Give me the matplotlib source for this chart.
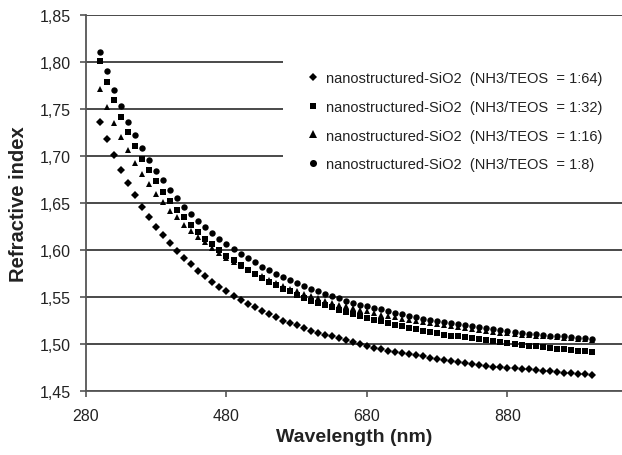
import matplotlib
matplotlib.use("Agg")
import matplotlib.pyplot as plt
from matplotlib.patches import Rectangle

plt.rcParams['font.family'] = ['Liberation Sans', 'DejaVu Sans']

wavelength = list(range(300, 1001, 10))

n_1_64 = [1.736, 1.718, 1.701, 1.685, 1.671, 1.658, 1.646, 1.635, 1.625, 1.616,
          1.607, 1.599, 1.592, 1.585, 1.578, 1.572, 1.566, 1.561, 1.556, 1.551,
          1.547, 1.543, 1.539, 1.535, 1.532, 1.529, 1.525, 1.522, 1.520, 1.517,
          1.514, 1.512, 1.510, 1.508, 1.506, 1.504, 1.502, 1.500, 1.498, 1.496,
          1.495, 1.493, 1.492, 1.490, 1.489, 1.488, 1.487, 1.485, 1.484, 1.483,
          1.482, 1.481, 1.480, 1.479, 1.478, 1.477, 1.476, 1.476, 1.475, 1.474,
          1.473, 1.473, 1.472, 1.471, 1.471, 1.470, 1.469, 1.469, 1.468, 1.468,
          1.467]

n_1_32 = [1.801, 1.779, 1.760, 1.742, 1.726, 1.711, 1.697, 1.685, 1.673, 1.662,
          1.652, 1.643, 1.635, 1.627, 1.619, 1.612, 1.606, 1.600, 1.594, 1.589,
          1.584, 1.579, 1.574, 1.570, 1.566, 1.563, 1.559, 1.556, 1.552, 1.549,
          1.546, 1.544, 1.541, 1.539, 1.536, 1.534, 1.532, 1.530, 1.528, 1.526,
          1.524, 1.522, 1.520, 1.519, 1.517, 1.516, 1.514, 1.513, 1.512, 1.510,
          1.509, 1.508, 1.507, 1.506, 1.505, 1.504, 1.503, 1.502, 1.501, 1.500,
          1.499, 1.498, 1.498, 1.497, 1.496, 1.495, 1.495, 1.494, 1.493, 1.493,
          1.492]

n_1_16 = [1.771, 1.752, 1.735, 1.720, 1.706, 1.693, 1.681, 1.670, 1.660, 1.651,
          1.642, 1.635, 1.627, 1.620, 1.614, 1.608, 1.602, 1.597, 1.592, 1.587,
          1.583, 1.579, 1.575, 1.572, 1.568, 1.565, 1.562, 1.559, 1.556, 1.553,
          1.551, 1.549, 1.546, 1.544, 1.542, 1.540, 1.538, 1.536, 1.535, 1.533,
          1.531, 1.530, 1.529, 1.527, 1.526, 1.525, 1.523, 1.522, 1.521, 1.520,
          1.519, 1.518, 1.517, 1.516, 1.515, 1.514, 1.513, 1.512, 1.512, 1.511,
          1.510, 1.510, 1.509, 1.508, 1.508, 1.507, 1.506, 1.506, 1.505, 1.505,
          1.504]

n_1_8 = [1.811, 1.790, 1.770, 1.753, 1.736, 1.722, 1.708, 1.696, 1.684, 1.674,
         1.664, 1.655, 1.646, 1.638, 1.631, 1.624, 1.618, 1.612, 1.606, 1.601,
         1.596, 1.591, 1.587, 1.582, 1.579, 1.575, 1.571, 1.568, 1.565, 1.562,
         1.559, 1.556, 1.553, 1.551, 1.549, 1.546, 1.544, 1.542, 1.540, 1.538,
         1.537, 1.535, 1.533, 1.532, 1.530, 1.529, 1.527, 1.526, 1.525, 1.523,
         1.522, 1.521, 1.520, 1.519, 1.518, 1.517, 1.516, 1.515, 1.514, 1.513,
         1.512, 1.511, 1.511, 1.510, 1.509, 1.508, 1.508, 1.507, 1.506, 1.506,
         1.505]

series_labels = ["nanostructured-SiO2  (NH3/TEOS  = 1:64)",
                 "nanostructured-SiO2  (NH3/TEOS  = 1:32)",
                 "nanostructured-SiO2  (NH3/TEOS  = 1:16)",
                 "nanostructured-SiO2  (NH3/TEOS  = 1:8)"]

xticks = [280, 480, 680, 880]
yticks = [1.45, 1.50, 1.55, 1.60, 1.65, 1.70, 1.75, 1.80, 1.85]
ytick_labels = ["1,45", "1,50", "1,55", "1,60", "1,65", "1,70", "1,75", "1,80", "1,85"]

W, H = 622, 456
fig = plt.figure(figsize=(W / 100, H / 100), dpi=100)
ax = fig.add_axes([86 / W, 1 - 392 / H, (W - 86) / W, (392 - 16) / H])

line_c = '#3a3a3a'
txt_c = '#222222'

markers = ['D', 's', '^', 'o']
msizes = [4.0, 3.9, 4.8, 4.6]
for vals, m, ms, lab in zip([n_1_64, n_1_32, n_1_16, n_1_8], markers, msizes, series_labels):
    ax.plot(wavelength, vals, linestyle='none', marker=m, markersize=ms,
            color='black', markeredgewidth=0, label=lab, zorder=3)

ax.set_xlim(280, 1043)
ax.set_ylim(1.45, 1.85)
ax.set_xticks(xticks)
ax.set_xticklabels([str(t) for t in xticks])
ax.set_yticks(yticks)
ax.set_yticklabels(ytick_labels)

ax.set_axisbelow(True)
ax.grid(axis='y', color=line_c, linewidth=1.3)
ax.grid(axis='x', visible=False)

for s in ['top', 'right']:
    ax.spines[s].set_visible(False)
for s in ['left', 'bottom']:
    ax.spines[s].set_color('#555555')
    ax.spines[s].set_linewidth(1.3)

ax.tick_params(axis='y', direction='out', length=4, width=1.2, color='#555555',
               pad=7, labelsize=11.5, labelcolor=txt_c)
ax.tick_params(axis='x', direction='out', length=4, width=1.2, color='#555555',
               pad=8, labelsize=11.5, labelcolor=txt_c)

# white legend background covering the gridlines
ax.add_patch(Rectangle(((283 - 86) / (W - 86), (392 - 190) / (392 - 16)),
                       1.0, (190 - 40) / (392 - 16), transform=ax.transAxes,
                       facecolor='white', edgecolor='none', zorder=1))

leg = ax.legend(loc='upper left', bbox_to_anchor=(300 / W, 1 - 66 / H),
                bbox_transform=fig.transFigure, frameon=False,
                fontsize=10.5, handlelength=1.0, handletextpad=0.35,
                labelspacing=1.02, markerscale=1.1, borderaxespad=0)
for t in leg.get_texts():
    t.set_color(txt_c)

ax.set_xlabel("Wavelength (nm)", fontsize=14, fontweight='bold', color=txt_c, labelpad=4)
ax.set_ylabel("Refractive index", fontsize=14.5, fontweight='bold', color=txt_c, labelpad=8)

fig.savefig("out.png", dpi=100)
